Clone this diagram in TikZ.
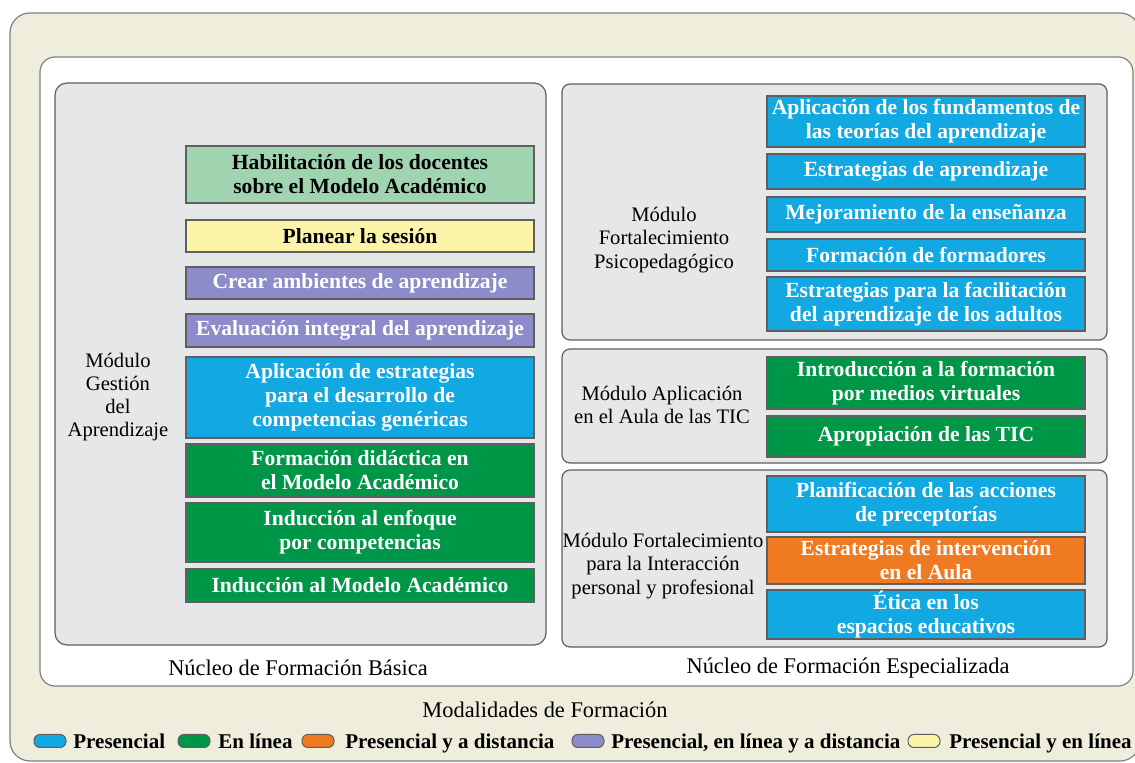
\documentclass[tikz,border=0pt]{standalone}
\usepackage{fontspec}
\setmainfont{Liberation Serif}

\definecolor{beige}{RGB}{239,238,220}
\definecolor{panelgray}{RGB}{230,231,233}
\definecolor{framegray}{RGB}{95,95,95}
\definecolor{presblue}{RGB}{18,168,226}
\definecolor{linegreen}{RGB}{0,150,72}
\definecolor{distorange}{RGB}{240,122,34}
\definecolor{mixpurple}{RGB}{140,140,202}
\definecolor{mixyellow}{RGB}{252,244,168}
\definecolor{habgreen}{RGB}{160,211,176}

\tikzset{
    modbox/.style={draw=framegray, line width=0.6pt, inner sep=0pt, align=center, text=white,
        font=\fontsize{10.8}{12}\selectfont\bfseries},
    presencial/.style={fill=presblue},
    enlinea/.style={fill=linegreen},
    distancia/.style={fill=distorange},
    todas/.style={fill=mixpurple},
    mixta/.style={fill=mixyellow, text=black},
    habil/.style={fill=habgreen, text=black},
    modlabel/.style={align=center, inner sep=0pt, font=\fontsize{10.3}{11.6}\selectfont},
    nucleo/.style={inner sep=0pt, font=\fontsize{11.2}{12}\selectfont},
    panel/.style={draw=framegray, line width=0.6pt, fill=panelgray},
    swatch/.style={draw=framegray, line width=0.5pt, rounded corners=3pt, minimum width=16pt,
        minimum height=6.5pt, inner sep=0pt},
    legtext/.style={inner sep=0pt, anchor=base west, font=\fontsize{10.5}{12}\selectfont\bfseries},
}

% course box: name, x1, y1, x2, y2, modality, text
\newcommand{\curso}[7]{%
    \node[modbox, #6, minimum width={(#4-#2)*0.5pt}, minimum height={(#5-#3)*0.5pt}]
        (#1) at ({(#2+#4)/2},{(#3+#5)/2}) {#7};}

\begin{document}
\begin{tikzpicture}[x=0.5pt, y=-0.5pt]
    \clip (0,0) rectangle (1135,763);

    % --- Frames ---
    \draw[fill=beige, draw=gray, line width=0.6pt, rounded corners=10pt] (10,13) rectangle (1140,761);
    \draw[fill=white, draw=gray, line width=0.6pt, rounded corners=7.5pt] (40,57) rectangle (1133,686);
    \draw[panel, rounded corners=6pt] (55,83) rectangle (546,645);
    \draw[panel, rounded corners=4pt] (562,84) rectangle (1107,340);
    \draw[panel, rounded corners=4pt] (562,349) rectangle (1107,463);
    \draw[panel, rounded corners=4pt] (562,470) rectangle (1107,647);

    % --- Nucleo de Formacion Basica ---
    \node[modlabel] (gestion) at (118,397) {Módulo\\Gestión\\del\\Aprendizaje};
    \curso{habilitacion}{186}{146}{534}{203}{habil}{Habilitación de los docentes\\sobre el Modelo Académico}
    \curso{planear}{186}{220}{534}{252}{mixta}{Planear la sesión}
    \curso{ambientes}{186}{267}{534}{299}{todas}{Crear ambientes de aprendizaje}
    \curso{evaluacion}{186}{314}{534}{347}{todas}{Evaluación integral del aprendizaje}
    \curso{genericas}{186}{357}{534}{438}{presencial}{Aplicación de estrategias\\para el desarrollo de\\competencias genéricas}
    \curso{didactica}{186}{444}{534}{497}{enlinea}{Formación didáctica en\\el Modelo Académico}
    \curso{enfoque}{186}{503}{534}{562}{enlinea}{Inducción al enfoque\\por competencias}
    \curso{induccion}{186}{569}{534}{602}{enlinea}{Inducción al Modelo Académico}
    \node[nucleo] (basica) at (298,668) {Núcleo de Formación Básica};

    % --- Nucleo de Formacion Especializada ---
    \node[modlabel] (psico) at (664,240) {Módulo\\Fortalecimiento\\Psicopedagógico};
    \curso{fundamentos}{767}{96}{1085}{147}{presencial}{Aplicación de los fundamentos de\\las teorías del aprendizaje}
    \curso{estrategias}{767}{154}{1085}{189}{presencial}{Estrategias de aprendizaje}
    \curso{mejora}{767}{197}{1085}{232}{presencial}{Mejoramiento de la enseñanza}
    \curso{formadores}{767}{239}{1085}{271}{presencial}{Formación de formadores}
    \curso{adultos}{767}{277}{1085}{331}{presencial}{Estrategias para la facilitación\\del aprendizaje de los adultos}

    \node[modlabel] (tic) at (662,405) {Módulo Aplicación\\en el Aula de las TIC};
    \curso{virtuales}{767}{357}{1085}{409}{enlinea}{Introducción a la formación\\por medios virtuales}
    \curso{apropiacion}{767}{416}{1085}{457}{enlinea}{Apropiación de las TIC}

    \node[modlabel] (interaccion) at (663,566) {Módulo Fortalecimiento\\para la Interacción\\personal y profesional};
    \curso{preceptorias}{767}{476}{1085}{532}{presencial}{Planificación de las acciones\\de preceptorías}
    \curso{intervencion}{767}{537}{1085}{584}{distancia}{Estrategias de intervención\\en el Aula}
    \curso{etica}{767}{590}{1085}{639}{presencial}{Ética en los\\espacios educativos}
    \node[nucleo] (especializada) at (848,668) {Núcleo de Formación Especializada};

    % --- Legend ---
    \node[nucleo] (modalidades) at (545,710) {Modalidades de Formación};
    \foreach \col/\sx/\tx/\lab [count=\i] in {presblue/50/73/Presencial, linegreen/194/218/En línea,
        distorange/318/345/Presencial y a distancia, mixpurple/588/611/{Presencial, en línea y a distancia},
        mixyellow/924/949/Presencial y en línea} {
        \node[swatch, fill=\col] (sw\i) at (\sx,741) {};
        \node[legtext] (lt\i) at (\tx,748) {\lab};
    }
\end{tikzpicture}
\end{document}
